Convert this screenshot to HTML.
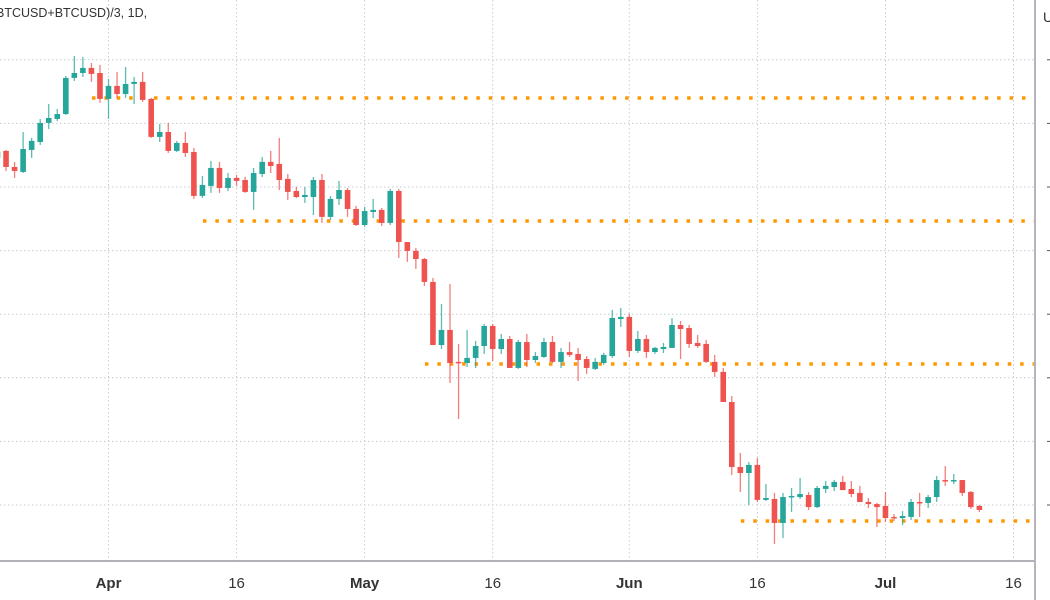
<!DOCTYPE html>
<html><head><meta charset="utf-8"><style>
html,body{margin:0;padding:0;background:#fff;overflow:hidden}
svg{display:block;font-family:"Liberation Sans",sans-serif}
</style></head><body>
<svg id="chart" width="1050" height="600" viewBox="0 0 1050 600">
<g id="grid"></g>
<g id="levels"></g>
<g id="candles"></g>
<line x1="0" y1="561" x2="1035" y2="561" stroke="#9598a1" stroke-width="1.5"/>
<line x1="1035" y1="0" x2="1035" y2="600" stroke="#b2b5be" stroke-width="2"/>
<g id="xlabels"></g>
<g id="yticks"></g>
<text x="-4" y="17" font-size="12.5" fill="#333">BTCUSD+BTCUSD)/3, 1D,</text>
<text x="1043" y="22" font-size="14" fill="#333">U</text>
</svg>
<script>
// day offsets from Apr 1 for each candle: first candle Mar 19 (-13), consecutive daily
const firstDay = -13;
const opens  = [41830,42270,41260,40950,42330,42830,44030,44280,44590,46860,47170,47490,47170,45540,46360,45850,46480,46610,45540,43150,43460,42270,42770,42200,39440,40070,41200,39940,40570,40440,39690,40820,41580,41450,40510,39750,39370,39370,40440,38120,39250,39810,38620,37610,38430,38560,37740,39750,36540,35980,35470,34030,30060,31010,29000,28930,29250,30000,31260,29810,30440,28620,30250,29120,29310,30250,29000,29620,29500,29180,28560,28930,29370,31700,31830,29690,30440,29620,29810,29880,31320,31130,30190,30130,29000,28370,26480,22390,22010,22520,20320,20380,18870,20500,20500,20630,19870,21010,21130,21450,21010,20760,20190,20060,19940,19250,19180,19250,20190,20130,20500,21570,21510,21570,20820,19940];
const highs  = [42330,42330,41580,43460,43090,44280,45220,44910,46990,48240,48180,47800,47680,46800,47240,47550,46920,47240,45600,43970,44030,42900,43460,42460,40700,41640,41580,40880,40760,40630,41200,41890,42270,43090,40820,40000,40000,40630,40820,39440,40380,39940,38810,38750,39250,38680,39880,39880,36540,36170,35540,34280,32640,33900,30130,31010,30320,31390,31390,30760,30630,30380,30760,29620,30510,30630,29880,30250,29880,29370,29250,29560,32270,32390,32020,30950,30690,29940,30190,31760,31570,31320,30690,30380,29440,28620,26860,23270,22700,22960,21320,20760,20760,21070,21700,20820,21200,21510,21570,21830,21510,21200,20440,20130,20820,19430,19620,20380,20760,20630,21830,22450,21950,21570,20880,20000];
const lows   = [41700,41010,40570,40880,41830,42640,43650,44150,44530,46670,46920,46610,45290,44280,45600,45600,45220,45350,43090,42830,42140,42200,41890,39250,39310,39630,39630,39750,40070,39630,38560,40630,40880,39810,39190,39310,39000,38240,37740,37930,38870,38120,37550,37490,38050,37550,37610,35540,35290,34850,33780,30060,29810,27670,25410,28680,28620,29500,29060,29500,28620,28560,28680,28930,29250,28930,28620,29310,27800,28240,28490,28810,29250,31200,29310,29560,29250,29500,29560,29880,29180,29880,29880,28930,28050,26480,21890,20820,20000,20190,20250,17550,17920,19560,20380,19690,19810,20760,20880,20940,20500,20190,19810,18620,18930,18990,18740,19060,19250,19810,20190,21200,21320,20570,19750,19560];
const closes = [42200,41260,41010,42390,42900,44030,44340,44590,46860,47170,47490,47110,45540,46360,45850,46480,46610,45480,43150,43460,42270,42770,42140,39440,40130,41200,39940,40570,40380,39690,40880,41580,41320,40440,39690,39370,39500,40440,38120,39250,39810,38620,37610,38490,38560,37740,39750,36540,35980,35470,34030,30060,31010,28930,28930,29250,30000,31260,29810,30440,28620,30250,29120,29370,30250,29000,29620,29440,29120,28620,29000,29440,31760,31830,29690,30440,29620,29880,29940,31320,31070,30130,30000,29000,28370,26480,22390,22010,22520,20320,20440,18870,20500,20570,20690,19870,21070,21200,21450,20940,20690,20190,20060,19870,19180,19180,19310,20190,20130,20500,21570,21510,21570,20760,19870,19690];
const levelPrices = [45600,37860,28870,18990];
const levelStartDays = [-1,12,38,75];
const priceTicks = [20000,24000,28000,32000,36000,40000,44000,48000];
const dateLabels = ["Apr","16","May","16","Jun","16","Jul","16"];
const dateLabelDays = [0,15,30,45,61,76,91,106];
const dateLabelBold = [true,false,true,false,true,false,true,false];

const NS="http://www.w3.org/2000/svg";
function xScale(d){return 108.5+d*8.538;}
function yScale(p){return 505-(p-20000)/4000*63.6;}
function mk(tag,attrs,parent){const e=document.createElementNS(NS,tag);for(const k in attrs)e.setAttribute(k,attrs[k]);parent.appendChild(e);return e;}

const grid=document.getElementById('grid');
priceTicks.forEach(p=>{
  const l=mk('line',{x1:0,x2:1035,y1:yScale(p),y2:yScale(p),stroke:'#c8cad0','stroke-width':1,'stroke-dasharray':'1.5 2.5'},grid);
  
  
});
dateLabelDays.forEach(d=>{
  const l=mk('line',{x1:xScale(d),x2:xScale(d),y1:0,y2:561,stroke:'#c8cad0','stroke-width':1,'stroke-dasharray':'1.5 2.5'},grid);
  
  
});

const lv=document.getElementById('levels');
levelPrices.forEach((p,i)=>{
  const l=mk('line',{x1:xScale(levelStartDays[i])-8,x2:1035,y1:yScale(p),y2:yScale(p),stroke:'#ff9800','stroke-width':3.5,'stroke-dasharray':'3.5 8.9'},lv);
  
  
});

const cg=document.getElementById('candles');
for(let i=0;i<opens.length;i++){
  const x=xScale(firstDay+i);
  const up=closes[i]>=opens[i];
  const col=up?'#26a69a':'#ef5350';
  const g=mk('g',{},cg);
  
  
  mk('line',{x1:x,x2:x,y1:yScale(highs[i]),y2:yScale(lows[i]),stroke:col,'stroke-width':1.3,opacity:0.75},g);
  const top=yScale(Math.max(opens[i],closes[i])), bot=yScale(Math.min(opens[i],closes[i]));
  mk('rect',{x:x-2.8,y:top,width:5.6,height:Math.max(1.5,bot-top),fill:col},g);
}

const xl=document.getElementById('xlabels');
dateLabels.forEach((t,i)=>{
  const e=mk('text',{x:xScale(dateLabelDays[i]),y:588,'text-anchor':'middle','font-size':15,fill:'#333','font-weight':dateLabelBold[i]?'bold':'normal'},xl);
  e.textContent=t;
  
  
});
const yt=document.getElementById('yticks');
priceTicks.forEach(p=>{
  const l=mk('line',{x1:1047,x2:1050,y1:yScale(p),y2:yScale(p),stroke:'#555','stroke-width':1},yt);
  
  
});
</script>
</body></html>
